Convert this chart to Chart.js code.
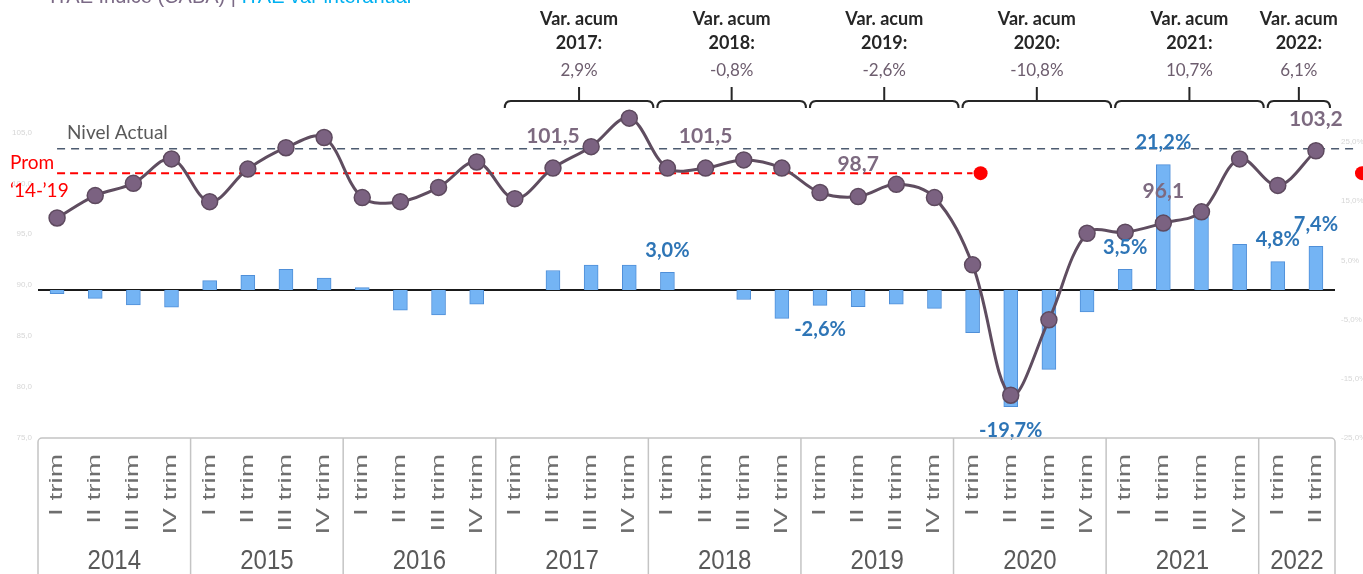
<!DOCTYPE html>
<html>
<head>
<meta charset="utf-8">
<script src="https://cdn.jsdelivr.net/npm/chart.js@4.4.1/dist/chart.umd.min.js"></script>
<style>
  html, body { margin: 0; padding: 0; background: #fff; overflow: hidden; }
</style>
</head>
<body>
<canvas id="chart" width="1363" height="574"></canvas>
<script>
// categories
const years = ['2014', '2015', '2016', '2017', '2018', '2019', '2020', '2021', '2022'];
const quartersPerYear = [4, 4, 4, 4, 4, 4, 4, 4, 2];
const quarterNames = ['I trim', 'II trim', 'III trim', 'IV trim'];

// ITAE indice (CABA)
const indice = [96.6, 98.8, 100.0, 102.4, 98.2, 101.4, 103.5, 104.5, 98.6, 98.2, 99.6, 102.1,
  98.5, 101.5, 103.6, 106.4, 101.5, 101.5, 102.3, 101.5, 99.1, 98.7, 99.9, 98.6,
  92.0, 79.2, 86.6, 95.1, 95.2, 96.1, 97.2, 102.4, 99.8, 103.2];

// ITAE var interanual (%)
const varInteranual = [-0.6, -1.4, -2.5, -2.9, 1.6, 2.5, 3.5, 2.0, 0.4, -3.4, -4.2, -2.4,
  0.0, 3.3, 4.2, 4.2, 3.0, 0.0, -1.6, -4.8, -2.6, -2.8, -2.4, -3.1,
  -7.2, -19.7, -13.4, -3.7, 3.5, 21.2, 12.4, 7.7, 4.8, 7.4];

// var. acumulada por año (2017-2022)
const acumYears = ['2017', '2018', '2019', '2020', '2021', '2022'];
const acumValues = ['2,9%', '-0,8%', '-2,6%', '-10,8%', '10,7%', '6,1%'];

const promedio = 101.0;     // Prom '14-'19
const nivelActual = 103.2;
const promEndIndex = 24;

// which points get a data label
const indiceLabelIdx = [13, 17, 21, 29, 33];
const varLabelIdx = [16, 20, 25, 28, 29, 32, 33];

// tick labels
const leftTicks = [75, 80, 85, 90, 95, 100, 105];
const rightTicks = [-25, -15, -5, 5, 15, 25];

const categories = [];
const yearStart = [];
years.forEach((y, i) => {
  yearStart.push(categories.length);
  for (let q = 0; q < quartersPerYear[i]; q++) categories.push(quarterNames[q]);
});

const fmt = v => v.toFixed(1).replace('.', ',');

const overlay = {
  id: 'overlay',
  beforeDatasetsDraw(chart) {
    const { ctx, chartArea: a, scales: { x, y, y2 } } = chart;
    ctx.save();
    // faint axis labels
    ctx.font = '8px "Liberation Sans"';
    ctx.fillStyle = '#d6d6d6';
    ctx.textBaseline = 'middle';
    ctx.textAlign = 'right';
    leftTicks.forEach(v => ctx.fillText(fmt(v), a.left - 6, y.getPixelForValue(v)));
    ctx.textAlign = 'left';
    rightTicks.forEach(v => ctx.fillText(fmt(v) + '%', a.right + 6, y2.getPixelForValue(v)));

    // zero line
    const y0 = y2.getPixelForValue(0);
    ctx.strokeStyle = '#1a1a1a';
    ctx.lineWidth = 2;
    ctx.beginPath(); ctx.moveTo(a.left, y0); ctx.lineTo(a.right, y0); ctx.stroke();

    // nivel actual
    const x0 = x.getPixelForValue(0);
    const yn = y.getPixelForValue(nivelActual) - 2;
    ctx.setLineDash([8, 6]);
    ctx.strokeStyle = '#4c5b70';
    ctx.lineWidth = 1.5;
    ctx.beginPath(); ctx.moveTo(x0, yn); ctx.lineTo(chart.width - 6, yn); ctx.stroke();

    // promedio
    const yp = y.getPixelForValue(promedio);
    const xe = x.getPixelForValue(promEndIndex);
    ctx.setLineDash([8, 5]);
    ctx.strokeStyle = '#ff0000';
    ctx.lineWidth = 2;
    ctx.beginPath(); ctx.moveTo(x0, yp); ctx.lineTo(xe, yp); ctx.stroke();
    ctx.setLineDash([]);
    ctx.fillStyle = '#ff0000';
    [xe + 8, chart.width - 1].forEach(px => {
      ctx.beginPath(); ctx.arc(px, yp, 7, 0, Math.PI * 2); ctx.fill();
    });
    ctx.restore();
  },
  afterDatasetsDraw(chart) {
    const { ctx, chartArea: a, scales: { x, y, y2 } } = chart;
    ctx.save();
    ctx.textAlign = 'center';
    ctx.textBaseline = 'middle';

    // line labels
    ctx.font = 'bold 21px Lato';
    ctx.fillStyle = '#7d6a80';
    indiceLabelIdx.forEach(i => {
      ctx.fillText(fmt(indice[i]), x.getPixelForValue(i), y.getPixelForValue(indice[i]) - 32);
    });

    // bar labels
    ctx.font = 'bold 20px Lato';
    ctx.fillStyle = '#2e75b6';
    varLabelIdx.forEach(i => {
      const v = varInteranual[i];
      const py = y2.getPixelForValue(v) + (v >= 0 ? -22 : 24);
      ctx.fillText(fmt(v) + '%', x.getPixelForValue(i), py);
    });

    // left texts
    ctx.textAlign = 'left';
    ctx.font = '19px Lato';
    ctx.fillStyle = '#595959';
    ctx.fillText('Nivel Actual', 67, y.getPixelForValue(nivelActual) - 18);
    ctx.fillStyle = '#ff0000';
    ctx.fillText('Prom', 10, y.getPixelForValue(promedio) - 10);
    ctx.fillText('\u201814-\u201919', 10, y.getPixelForValue(promedio) + 18);

    // title (cut at top)
    ctx.textBaseline = 'alphabetic';
    ctx.font = '20px "Liberation Sans"';
    const t1 = 'ITAE Índice (CABA) | ';
    ctx.fillStyle = '#7b6a86';
    ctx.fillText(t1, 50, 3);
    ctx.fillStyle = '#00b0f0';
    ctx.fillText('ITAE var interanual', 50 + ctx.measureText(t1).width, 3);

    // brackets with accumulated variation
    const half = (x.getPixelForValue(1) - x.getPixelForValue(0)) / 2;
    acumYears.forEach((yr, k) => {
      const yi = years.indexOf(yr);
      const s = yearStart[yi], n = quartersPerYear[yi];
      const l = x.getPixelForValue(s) - half + 9;
      const r = Math.min(x.getPixelForValue(s + n - 1) + half + 5, a.right - 5);
      const c = (l + r) / 2;
      ctx.strokeStyle = '#262626';
      ctx.lineWidth = 2;
      ctx.beginPath();
      ctx.moveTo(l, 108);
      ctx.quadraticCurveTo(l, 101, l + 6, 101);
      ctx.lineTo(r - 6, 101);
      ctx.quadraticCurveTo(r, 101, r, 108);
      ctx.moveTo(c, 101); ctx.lineTo(c, 87);
      ctx.stroke();

      ctx.textAlign = 'center';
      ctx.font = 'bold 18px Lato';
      const w = ctx.measureText('Var. acum').width;
      const tc = Math.min(c, chart.width - 7 - w / 2);
      ctx.fillStyle = '#262626';
      ctx.fillText('Var. acum', tc, 25);
      ctx.fillText(yr + ':', tc, 49);
      ctx.font = '17px Lato';
      ctx.fillStyle = '#6d5d6e';
      ctx.fillText(acumValues[k], tc, 76);
    });
    ctx.restore();
  },
  afterDraw(chart) {
    const { ctx, chartArea: a, scales: { x } } = chart;
    const half = (x.getPixelForValue(1) - x.getPixelForValue(0)) / 2;
    ctx.save();
    // category box
    ctx.strokeStyle = '#c4c4c4';
    ctx.lineWidth = 1.5;
    ctx.beginPath();
    ctx.roundRect(a.left, a.bottom, a.right - a.left, chart.height - a.bottom + 10, 4);
    ctx.stroke();
    yearStart.slice(1).forEach(s => {
      const px = x.getPixelForValue(s) - half;
      ctx.beginPath(); ctx.moveTo(px, a.bottom); ctx.lineTo(px, chart.height); ctx.stroke();
    });
    // quarter labels, rotated
    ctx.fillStyle = '#6e6e6e';
    ctx.font = '18px "Liberation Sans"';
    ctx.textAlign = 'right';
    ctx.textBaseline = 'middle';
    categories.forEach((lab, i) => {
      ctx.save();
      ctx.translate(x.getPixelForValue(i), a.bottom + 16);
      ctx.rotate(-Math.PI / 2);
      ctx.scale(1.55, 1);
      ctx.fillText(lab, 0, 0);
      ctx.restore();
    });
    // year labels
    ctx.font = '24px "Liberation Sans"';
    ctx.fillStyle = '#595959';
    ctx.textAlign = 'center';
    years.forEach((yr, i) => {
      const s = yearStart[i], n = quartersPerYear[i];
      const cx = (x.getPixelForValue(s) + x.getPixelForValue(s + n - 1)) / 2;
      ctx.save();
      ctx.translate(cx, a.bottom + 123);
      ctx.scale(1, 1.15);
      ctx.fillText(yr, 0, 0);
      ctx.restore();
    });
    ctx.restore();
  }
};

new Chart(document.getElementById('chart'), {
  type: 'bar',
  data: {
    labels: categories,
    datasets: [{
      type: 'line',
      label: 'ITAE Índice (CABA)',
      data: indice,
      yAxisID: 'y',
      order: 0,
      borderColor: '#5f4d60',
      borderWidth: 3,
      tension: 0.35,
      pointRadius: 8,
      pointBackgroundColor: '#7b6281',
      pointBorderColor: '#5e4a5f',
      pointBorderWidth: 1.5
    }, {
      type: 'bar',
      label: 'ITAE var interanual',
      data: varInteranual,
      yAxisID: 'y2',
      order: 2,
      backgroundColor: '#74b4f4',
      borderColor: '#4f8fd8',
      borderWidth: 1,
      barThickness: 14
    }]
  },
  options: {
    responsive: false,
    devicePixelRatio: 1,
    animation: false,
    layout: { autoPadding: false, padding: { left: 38, right: 28, top: 0, bottom: 136 } },
    plugins: {
      legend: { display: false },
      tooltip: { enabled: false }
    },
    scales: {
      x: { type: 'category', offset: true, display: false },
      y: { position: 'left', min: 75, max: 118, display: false },
      y2: { position: 'right', min: -25, max: 49, display: false }
    }
  },
  plugins: [overlay]
});
</script>
</body>
</html>
